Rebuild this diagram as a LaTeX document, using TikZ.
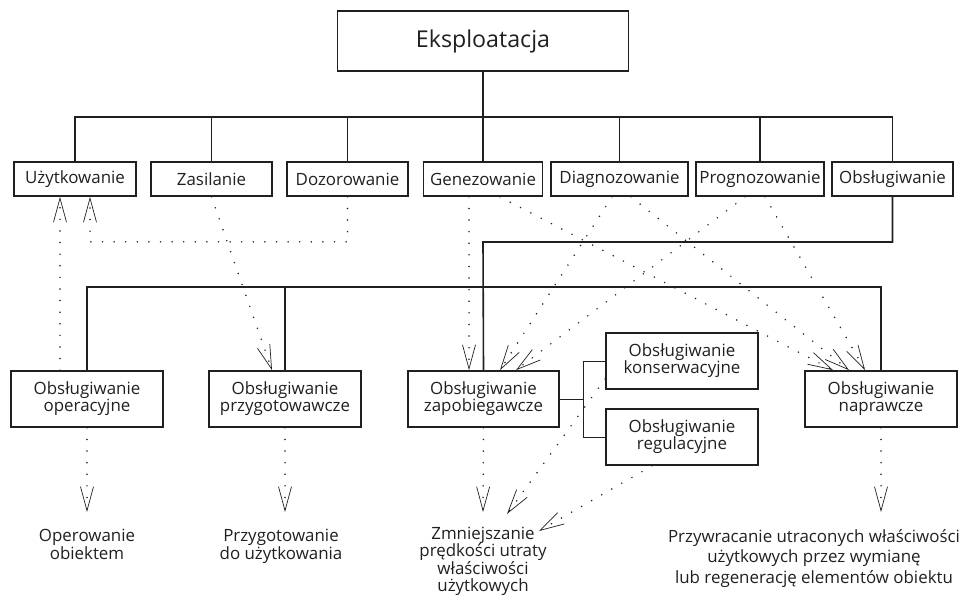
\documentclass[tikz,border=0pt]{standalone}
\usepackage{fontspec}
\setmainfont{Open Sans}
\usetikzlibrary{arrows.meta}
\definecolor{ink}{HTML}{231F20}
\newcommand\boxfont{\fontsize{16.9pt}{17pt}\selectfont}
\newcommand\bigfont{\fontsize{23.2pt}{26pt}\selectfont}
\begin{document}
\begin{tikzpicture}[x=1pt,y=-1pt,
  box/.style={draw=ink, line width=1.7pt, inner sep=0pt, align=center,
    text=ink, font=\boxfont},
  topbox/.style={box, minimum height=34pt},
  lowbox/.style={box, minimum width=152pt, minimum height=56pt},
  txt/.style={inner sep=0pt, align=center, text=ink, anchor=north},
  tree/.style={draw=ink, line width=1.6pt},
  thintree/.style={draw=ink, line width=0.9pt},
  dotarrow/.style={draw=ink, line width=1.7pt, line cap=round,
    dash pattern=on 0pt off 11.6pt,
    -{Straight Barb[length=24pt, width=13pt, line width=0.7pt]}}
]
\useasboundingbox (0,0) rectangle (961,596);

% root
\node[box, minimum width=291pt, minimum height=60pt, font=\bigfont] (eks) at (483,41) {Eksploatacja};

% first level
\node[topbox, minimum width=122pt] (uzy) at (75,179) {Użytkowanie};
\node[topbox, minimum width=121pt] (zas) at (211.5,179) {Zasilanie};
\node[topbox, minimum width=121pt] (doz) at (347.5,179) {Dozorowanie};
\node[topbox, minimum width=119pt] (gen) at (483,179) {Genezowanie};
\node[topbox, minimum width=137pt] (dia) at (619.5,179) {Diagnozowanie};
\node[topbox, minimum width=128pt] (pro) at (760,179) {Prognozowanie};
\node[topbox, minimum width=121pt] (obs) at (892.5,179) {Obsługiwanie};

% kinds of servicing
\node[lowbox] (ope) at (87,399) {Obsługiwanie\\operacyjne};
\node[lowbox] (prz) at (285,399) {Obsługiwanie\\przygotowawcze};
\node[lowbox, minimum width=151pt] (zap) at (483.5,399) {Obsługiwanie\\zapobiegawcze};
\node[lowbox] (kon) at (682,361) {Obsługiwanie\\konserwacyjne};
\node[lowbox] (reg) at (682,437) {Obsługiwanie\\regulacyjne};
\node[lowbox] (nap) at (881,399) {Obsługiwanie\\naprawcze};

% results
\node[txt, font=\fontsize{16.9pt}{15.5pt}\selectfont] (opetxt) at (87,529) {Operowanie\\obiektem};
\node[txt, font=\fontsize{16.9pt}{16pt}\selectfont] (prztxt) at (281,529) {Przygotowanie\\do użytkowania};
\node[txt, font=\fontsize{16.9pt}{17.3pt}\selectfont] (zmntxt) at (483,527) {Zmniejszanie\\prędkości utraty\\właściwości\\użytkowych};
\node[txt, font=\fontsize{16.9pt}{20.5pt}\selectfont] (naptxt) at (814,529) {Przywracanie utraconych właściwości\\użytkowych przez wymianę\\lub regenerację elementów obiektu};

% solid tree
\coordinate (bus) at (483,117);
\coordinate (obsturn) at (483,242);
\coordinate (lowbus) at (483,287);
\coordinate (brk) at (583,399);
\draw[tree] (eks.south) -- (bus);
\foreach \n in {uzy,zas,doz,gen,dia,pro,obs}
  \draw[tree] (\n.north) |- (bus);
\draw[tree] (obs.south) |- (obsturn) -- (zap.north);
\foreach \n in {ope,prz,nap}
  \draw[tree] (\n.north) |- (lowbus);
\draw[thintree] (zap.east) -- (brk);
\draw[thintree] (kon.west) -| (brk);
\draw[thintree] (reg.west) -| (brk);

% dotted relations
\draw[dotarrow] ([xshift=-27pt]ope.north) -- ([xshift=-15pt]uzy.south);
\draw[dotarrow] (doz.south) -- ++(0,45) -| ([xshift=15pt]uzy.south);
\draw[dotarrow] (zas.south) -- ([xshift=-13pt]prz.north);
\draw[dotarrow] ([xshift=-14pt]gen.south) -- ([xshift=-14.5pt]zap.north);
\draw[dotarrow] ([xshift=17pt]gen.south) -- ([xshift=-48pt]nap.north);
\draw[dotarrow] ([xshift=-7.5pt]dia.south) -- ([xshift=16.5pt]zap.north);
\draw[dotarrow] ([xshift=11.5pt]dia.south) -- ([xshift=-32pt]nap.north);
\draw[dotarrow] ([xshift=-15pt]pro.south) -- ([xshift=32.5pt]zap.north);
\draw[dotarrow] ([xshift=5pt]pro.south) -- ([xshift=-16pt]nap.north);

\draw[dotarrow] (ope.south) -- ([yshift=17pt]opetxt.north);
\draw[dotarrow] (prz.south) -- ([xshift=4pt,yshift=17pt]prztxt.north);
\draw[dotarrow] (zap.south) -- ([yshift=15pt]zmntxt.north);
\draw[dotarrow] (nap.south) -- ([xshift=67pt,yshift=17pt]naptxt.north);

\coordinate (zmnend) at (539,531);
\draw[dotarrow] ([yshift=11pt]kon.south west) -- ([xshift=24pt,yshift=13pt]zmntxt.north);
\draw[dotarrow] ([xshift=-30pt]reg.south) -- (zmnend);
\end{tikzpicture}
\end{document}
